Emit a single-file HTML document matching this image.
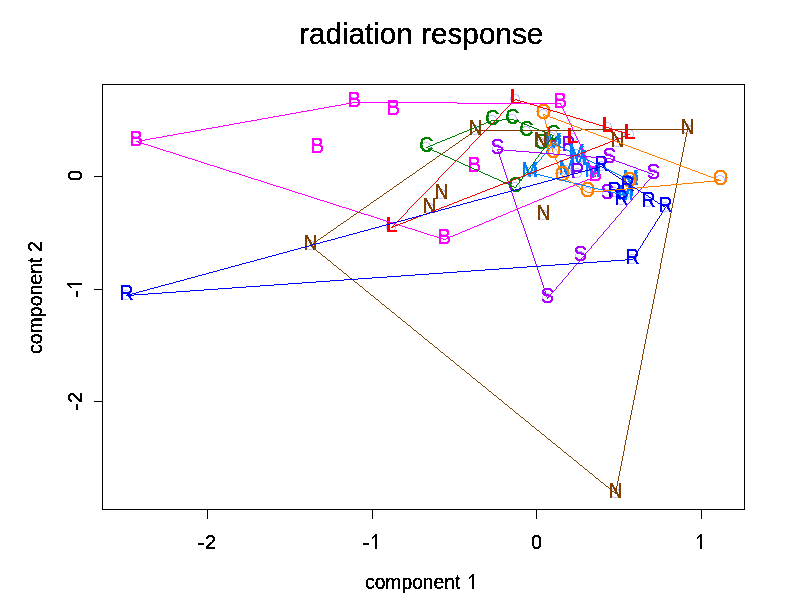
<!DOCTYPE html>
<html><head><meta charset="utf-8"><style>
html,body{margin:0;padding:0;background:#fff;width:792px;height:611px;overflow:hidden}
svg{display:block}
text{font-family:"Liberation Sans",sans-serif}
.L{stroke-width:0.3;paint-order:stroke}
</style></head><body>
<svg width="792" height="611" viewBox="0 0 792 611">
<defs><filter id="crisp" filterUnits="userSpaceOnUse" x="0" y="0" width="792" height="611" color-interpolation-filters="sRGB"><feComponentTransfer><feFuncA type="discrete" tableValues="0 1"/></feComponentTransfer></filter></defs>
<rect x="0" y="0" width="792" height="611" fill="#fff"/>
<g filter="url(#crisp)" stroke="#000" stroke-width="0.35"><text x="299" y="44" font-size="29.7" fill="#000">radiation response</text>
</g><g filter="url(#crisp)" stroke="#000" stroke-width="0.3"><text x="365" y="589" font-size="19.3" fill="#000">component </text>
<text transform="translate(42,354) rotate(-90)" x="0" y="0" font-size="19.5" fill="#000">component 2</text>
<text x="210.5" y="549" font-size="20" text-anchor="middle" fill="#000">2</text>
<text x="536.5" y="549" font-size="20" text-anchor="middle" fill="#000">0</text>
<text transform="translate(82,175.5) rotate(-90)" x="0" y="0" font-size="20" text-anchor="middle" fill="#000">0</text>
<text transform="translate(82,397.5) rotate(-90)" x="0" y="0" font-size="20" text-anchor="middle" fill="#000">2</text>
</g><path fill="#000" shape-rendering="crispEdges" d="M472,574H474V589H472Z M472,574L472,576.5L470.5,578L469,579L469,577L471,575Z M700,534H702V549H700Z M700,534L700,536.5L698.5,538L697,539L697,537L699,535Z M375,534H377V549H375Z M375,534L375,536.5L373.5,538L372,539L372,537L374,535Z M67,283H82V285H67Z M67,285L69.5,285L71,286.5L72,288L70,288L68,286Z M198,543h6v2h-6Z M363,543h6v2h-6Z M76,291h2v6h-2Z M76,404h2v6h-2Z"/>
<g stroke="#000" stroke-width="1" fill="none" shape-rendering="crispEdges"><rect x="102.5" y="84.5" width="642" height="425"/><line x1="207.5" y1="509.5" x2="207.5" y2="518.5"/><line x1="372.5" y1="509.5" x2="372.5" y2="518.5"/><line x1="536.5" y1="509.5" x2="536.5" y2="518.5"/><line x1="701.5" y1="509.5" x2="701.5" y2="518.5"/><line x1="93.5" y1="176.5" x2="102.5" y2="176.5"/><line x1="93.5" y1="289.5" x2="102.5" y2="289.5"/><line x1="93.5" y1="401.5" x2="102.5" y2="401.5"/></g>
<g stroke="#BFBFFF" stroke-width="1" fill="none" shape-rendering="crispEdges"><circle cx="136" cy="141" r="4.5"/><circle cx="354" cy="102" r="4.5"/><circle cx="393" cy="110" r="4.5"/><circle cx="474" cy="167" r="4.5"/><circle cx="560" cy="103" r="4.5"/><circle cx="595" cy="176" r="4.5"/><circle cx="444" cy="239" r="4.5"/><circle cx="497" cy="149" r="4.5"/><circle cx="609" cy="158" r="4.5"/><circle cx="653" cy="174" r="4.5"/><circle cx="580" cy="256" r="4.5"/><circle cx="547" cy="298" r="4.5"/><circle cx="607" cy="194" r="4.5"/><circle cx="426" cy="147" r="4.5"/><circle cx="492" cy="120" r="4.5"/><circle cx="512" cy="119" r="4.5"/><circle cx="526" cy="131" r="4.5"/><circle cx="553" cy="135" r="4.5"/><circle cx="541" cy="144" r="4.5"/><circle cx="515" cy="187" r="4.5"/><circle cx="475" cy="130" r="4.5"/><circle cx="687" cy="129" r="4.5"/><circle cx="617" cy="142" r="4.5"/><circle cx="540" cy="142" r="4.5"/><circle cx="441" cy="194" r="4.5"/><circle cx="429" cy="208" r="4.5"/><circle cx="310" cy="245" r="4.5"/><circle cx="543" cy="215" r="4.5"/><circle cx="615" cy="493" r="4.5"/><circle cx="553" cy="143" r="4.5"/><circle cx="576" cy="154" r="4.5"/><circle cx="578" cy="160" r="4.5"/><circle cx="529" cy="172" r="4.5"/><circle cx="566" cy="170" r="4.5"/><circle cx="592" cy="172" r="4.5"/><circle cx="630" cy="180" r="4.5"/><circle cx="625" cy="195" r="4.5"/><circle cx="543" cy="114" r="4.5"/><circle cx="720" cy="180" r="4.5"/><circle cx="553" cy="153" r="4.5"/><circle cx="562" cy="176" r="4.5"/><circle cx="587" cy="192" r="4.5"/><circle cx="629" cy="182" r="4.5"/><circle cx="568" cy="146" r="4.5"/><circle cx="577" cy="173" r="4.5"/><circle cx="515" cy="99" r="4.5"/><circle cx="607" cy="127" r="4.5"/><circle cx="629" cy="134" r="4.5"/><circle cx="391" cy="227" r="4.5"/><circle cx="551" cy="137" r="4.5"/><circle cx="572" cy="138" r="4.5"/><circle cx="126" cy="295" r="4.5"/><circle cx="601" cy="166" r="4.5"/><circle cx="665" cy="207" r="4.5"/><circle cx="632" cy="259" r="4.5"/><circle cx="648" cy="202" r="4.5"/><circle cx="614" cy="192" r="4.5"/><circle cx="621" cy="200" r="4.5"/><circle cx="627" cy="186" r="4.5"/></g>
<g filter="url(#crisp)" font-size="20" text-anchor="middle"><text class="L" fill="#FF00FF" stroke="#FF00FF" transform="translate(136.5,146) scale(1,1.07)">B</text><text class="L" fill="#FF00FF" stroke="#FF00FF" transform="translate(354.5,107) scale(1,1.07)">B</text><text class="L" fill="#FF00FF" stroke="#FF00FF" transform="translate(393.5,115) scale(1,1.07)">B</text><text class="L" fill="#FF00FF" stroke="#FF00FF" transform="translate(317.5,153) scale(1,1.07)">B</text><text class="L" fill="#FF00FF" stroke="#FF00FF" transform="translate(474.5,172) scale(1,1.07)">B</text><text class="L" fill="#FF00FF" stroke="#FF00FF" transform="translate(560.5,108) scale(1,1.07)">B</text><text class="L" fill="#FF00FF" stroke="#FF00FF" transform="translate(595.5,181) scale(1,1.07)">B</text><text class="L" fill="#FF00FF" stroke="#FF00FF" transform="translate(444.5,244) scale(1,1.07)">B</text><text class="L" fill="#A800FF" stroke="#A800FF" transform="translate(497.5,154) scale(1,1.07)">S</text><text class="L" fill="#A800FF" stroke="#A800FF" transform="translate(609.5,163) scale(1,1.07)">S</text><text class="L" fill="#A800FF" stroke="#A800FF" transform="translate(653.5,179) scale(1,1.07)">S</text><text class="L" fill="#A800FF" stroke="#A800FF" transform="translate(580.5,261) scale(1,1.07)">S</text><text class="L" fill="#A800FF" stroke="#A800FF" transform="translate(547.5,303) scale(1,1.07)">S</text><text class="L" fill="#A800FF" stroke="#A800FF" transform="translate(607.5,199) scale(1,1.07)">S</text><text class="L" fill="#8000FF" stroke="#8000FF" transform="translate(568.5,151) scale(1,1.07)">P</text><text class="L" fill="#008000" stroke="#008000" transform="translate(426.5,152) scale(1,1.07)">C</text><text class="L" fill="#008000" stroke="#008000" transform="translate(492.5,125) scale(1,1.07)">C</text><text class="L" fill="#008000" stroke="#008000" transform="translate(512.5,124) scale(1,1.07)">C</text><text class="L" fill="#008000" stroke="#008000" transform="translate(526.5,136) scale(1,1.07)">C</text><text class="L" fill="#008000" stroke="#008000" transform="translate(553.5,140) scale(1,1.07)">C</text><text class="L" fill="#008000" stroke="#008000" transform="translate(541.5,149) scale(1,1.07)">C</text><text class="L" fill="#008000" stroke="#008000" transform="translate(515.5,192) scale(1,1.07)">C</text><text class="L" fill="#FF0000" stroke="#FF0000" transform="translate(515.5,104) scale(1,1.07)">L</text><text class="L" fill="#FF0000" stroke="#FF0000" transform="translate(607.5,132) scale(1,1.07)">L</text><text class="L" fill="#FF0000" stroke="#FF0000" transform="translate(629.5,139) scale(1,1.07)">L</text><text class="L" fill="#FF0000" stroke="#FF0000" transform="translate(391.5,232) scale(1,1.07)">L</text><text class="L" fill="#FF0000" stroke="#FF0000" transform="translate(551.5,142) scale(1,1.07)">L</text><text class="L" fill="#FF0000" stroke="#FF0000" transform="translate(572.5,143) scale(1,1.07)">L</text><text class="L" fill="#0080FF" stroke="#0080FF" transform="translate(553.5,148) scale(1,1.07)">M</text><text class="L" fill="#0080FF" stroke="#0080FF" transform="translate(576.5,159) scale(1,1.07)">M</text><text class="L" fill="#0080FF" stroke="#0080FF" transform="translate(578.5,165) scale(1,1.07)">M</text><text class="L" fill="#0080FF" stroke="#0080FF" transform="translate(529.5,177) scale(1,1.07)">M</text><text class="L" fill="#0080FF" stroke="#0080FF" transform="translate(566.5,175) scale(1,1.07)">M</text><text class="L" fill="#0080FF" stroke="#0080FF" transform="translate(592.5,177) scale(1,1.07)">M</text><text class="L" fill="#0080FF" stroke="#0080FF" transform="translate(630.5,185) scale(1,1.07)">M</text><text class="L" fill="#0080FF" stroke="#0080FF" transform="translate(625.5,200) scale(1,1.07)">M</text><text class="L" fill="#804000" stroke="#804000" transform="translate(475.5,135) scale(1,1.07)">N</text><text class="L" fill="#804000" stroke="#804000" transform="translate(687.5,134) scale(1,1.07)">N</text><text class="L" fill="#804000" stroke="#804000" transform="translate(617.5,147) scale(1,1.07)">N</text><text class="L" fill="#804000" stroke="#804000" transform="translate(540.5,147) scale(1,1.07)">N</text><text class="L" fill="#804000" stroke="#804000" transform="translate(441.5,199) scale(1,1.07)">N</text><text class="L" fill="#804000" stroke="#804000" transform="translate(429.5,213) scale(1,1.07)">N</text><text class="L" fill="#804000" stroke="#804000" transform="translate(310.5,250) scale(1,1.07)">N</text><text class="L" fill="#804000" stroke="#804000" transform="translate(543.5,220) scale(1,1.07)">N</text><text class="L" fill="#804000" stroke="#804000" transform="translate(615.5,498) scale(1,1.07)">N</text><text class="L" fill="#FF8000" stroke="#FF8000" transform="translate(543.5,119) scale(1,1.07)">O</text><text class="L" fill="#FF8000" stroke="#FF8000" transform="translate(720.5,185) scale(1,1.07)">O</text><text class="L" fill="#FF8000" stroke="#FF8000" transform="translate(553.5,158) scale(1,1.07)">O</text><text class="L" fill="#FF8000" stroke="#FF8000" transform="translate(562.5,181) scale(1,1.07)">O</text><text class="L" fill="#FF8000" stroke="#FF8000" transform="translate(587.5,197) scale(1,1.07)">O</text><text class="L" fill="#FF8000" stroke="#FF8000" transform="translate(629.5,187) scale(1,1.07)">O</text><text class="L" fill="#8000FF" stroke="#8000FF" transform="translate(577.5,178) scale(1,1.07)">P</text><text class="L" fill="#0000FF" stroke="#0000FF" transform="translate(126.5,300) scale(1,1.07)">R</text><text class="L" fill="#0000FF" stroke="#0000FF" transform="translate(601.5,171) scale(1,1.07)">R</text><text class="L" fill="#0000FF" stroke="#0000FF" transform="translate(665.5,212) scale(1,1.07)">R</text><text class="L" fill="#0000FF" stroke="#0000FF" transform="translate(632.5,264) scale(1,1.07)">R</text><text class="L" fill="#0000FF" stroke="#0000FF" transform="translate(648.5,207) scale(1,1.07)">R</text><text class="L" fill="#0000FF" stroke="#0000FF" transform="translate(614.5,197) scale(1,1.07)">R</text><text class="L" fill="#0000FF" stroke="#0000FF" transform="translate(621.5,205) scale(1,1.07)">R</text><text class="L" fill="#0000FF" stroke="#0000FF" transform="translate(627.5,191) scale(1,1.07)">R</text></g>
<path fill="#FF00FF" shape-rendering="crispEdges" d="M144,144h4v1h-4ZM580,144h1v1h-1ZM218,126h5v1h-5ZM571,126h1v1h-1ZM346,103h6v1h-6ZM457,103h104v1h-104ZM324,107h5v1h-5ZM562,107h1v1h-1ZM386,221h4v1h-4ZM486,221h3v1h-3ZM296,112h5v1h-5ZM564,112h1v1h-1ZM232,172h4v1h-4ZM593,172h1v1h-1ZM352,102h105v1h-105ZM324,201h3v1h-3ZM534,201h3v1h-3ZM234,123h6v1h-6ZM570,123h1v1h-1ZM341,104h5v1h-5ZM560,104h1v1h-1ZM170,152h3v1h-3ZM583,152h1v1h-1ZM320,200h4v1h-4ZM537,200h2v1h-2ZM151,146h3v1h-3ZM581,146h1v1h-1ZM313,109h5v1h-5ZM563,109h1v1h-1ZM273,116h6v1h-6ZM566,116h1v1h-1ZM308,196h3v1h-3ZM546,196h3v1h-3ZM150,138h6v1h-6ZM577,138h1v1h-1ZM190,131h5v1h-5ZM573,131h1v1h-1ZM402,226h3v1h-3ZM474,226h3v1h-3ZM327,202h3v1h-3ZM532,202h2v1h-2ZM361,213h3v1h-3ZM506,213h2v1h-2ZM173,153h3v1h-3ZM584,153h1v1h-1ZM261,181h3v1h-3ZM582,181h3v1h-3ZM290,113h6v1h-6ZM565,113h1v1h-1ZM207,164h3v1h-3ZM589,164h1v1h-1ZM184,132h6v1h-6ZM574,132h1v1h-1ZM262,118h6v1h-6ZM567,118h1v1h-1ZM195,160h3v1h-3ZM587,160h1v1h-1ZM156,137h6v1h-6ZM576,137h1v1h-1ZM421,232h3v1h-3ZM460,232h2v1h-2ZM210,165h4v1h-4ZM590,165h1v1h-1ZM285,114h5v1h-5ZM565,114h1v1h-1ZM198,161h3v1h-3ZM588,161h1v1h-1ZM302,194h3v1h-3ZM551,194h3v1h-3ZM380,219h3v1h-3ZM491,219h3v1h-3ZM336,205h3v1h-3ZM525,205h2v1h-2ZM148,145h3v1h-3ZM580,145h1v1h-1ZM254,179h4v1h-4ZM587,179h3v1h-3ZM318,108h6v1h-6ZM562,108h1v1h-1ZM212,127h6v1h-6ZM572,127h1v1h-1ZM434,236h3v1h-3ZM450,236h3v1h-3ZM176,154h3v1h-3ZM584,154h1v1h-1ZM248,177h3v1h-3ZM592,177h2v1h-2ZM339,206h3v1h-3ZM522,206h3v1h-3ZM245,176h3v1h-3ZM594,176h2v1h-2ZM185,157h3v1h-3ZM586,157h1v1h-1ZM201,129h5v1h-5ZM572,129h1v1h-1ZM393,223h3v1h-3ZM482,223h2v1h-2ZM307,110h6v1h-6ZM563,110h1v1h-1ZM239,174h3v1h-3ZM594,174h1v1h-1ZM330,203h3v1h-3ZM530,203h2v1h-2ZM145,139h5v1h-5ZM577,139h1v1h-1ZM305,195h3v1h-3ZM549,195h2v1h-2ZM396,224h3v1h-3ZM479,224h3v1h-3ZM242,175h3v1h-3ZM595,175h1v1h-1ZM280,187h3v1h-3ZM568,187h2v1h-2ZM178,133h6v1h-6ZM574,133h1v1h-1ZM257,119h5v1h-5ZM568,119h1v1h-1ZM333,204h3v1h-3ZM527,204h3v1h-3ZM368,215h3v1h-3ZM501,215h2v1h-2ZM179,155h3v1h-3ZM585,155h1v1h-1ZM267,183h3v1h-3ZM578,183h2v1h-2ZM399,225h3v1h-3ZM477,225h2v1h-2ZM214,166h3v1h-3ZM590,166h1v1h-1ZM154,147h3v1h-3ZM581,147h1v1h-1ZM173,134h5v1h-5ZM575,134h1v1h-1ZM195,130h6v1h-6ZM573,130h1v1h-1ZM298,193h4v1h-4ZM554,193h2v1h-2ZM206,128h6v1h-6ZM572,128h1v1h-1ZM390,222h3v1h-3ZM484,222h2v1h-2ZM424,233h3v1h-3ZM458,233h2v1h-2ZM236,173h3v1h-3ZM594,173h1v1h-1ZM217,167h3v1h-3ZM591,167h1v1h-1ZM352,210h3v1h-3ZM513,210h2v1h-2ZM192,159h3v1h-3ZM587,159h1v1h-1ZM335,105h6v1h-6ZM561,105h1v1h-1ZM311,197h3v1h-3ZM544,197h2v1h-2ZM229,124h5v1h-5ZM570,124h1v1h-1ZM427,234h3v1h-3ZM455,234h3v1h-3ZM182,156h3v1h-3ZM585,156h1v1h-1ZM273,185h3v1h-3ZM573,185h2v1h-2ZM139,140h6v1h-6ZM578,140h1v1h-1ZM292,191h3v1h-3ZM558,191h3v1h-3ZM364,214h4v1h-4ZM503,214h3v1h-3ZM251,178h3v1h-3ZM590,178h2v1h-2ZM162,136h5v1h-5ZM576,136h1v1h-1ZM251,120h6v1h-6ZM568,120h1v1h-1ZM412,229h3v1h-3ZM467,229h3v1h-3ZM157,148h3v1h-3ZM582,148h1v1h-1ZM167,135h6v1h-6ZM575,135h1v1h-1ZM286,189h3v1h-3ZM563,189h3v1h-3ZM371,216h3v1h-3ZM498,216h3v1h-3ZM188,158h4v1h-4ZM586,158h1v1h-1ZM220,168h3v1h-3ZM591,168h1v1h-1ZM405,227h3v1h-3ZM472,227h2v1h-2ZM160,149h3v1h-3ZM582,149h1v1h-1ZM377,218h3v1h-3ZM494,218h2v1h-2ZM440,238h3v1h-3ZM446,238h2v1h-2ZM276,186h4v1h-4ZM570,186h3v1h-3ZM279,115h6v1h-6ZM566,115h1v1h-1ZM430,235h4v1h-4ZM453,235h2v1h-2ZM358,212h3v1h-3ZM508,212h2v1h-2ZM289,190h3v1h-3ZM561,190h2v1h-2ZM317,199h3v1h-3ZM539,199h3v1h-3ZM270,184h3v1h-3ZM575,184h3v1h-3ZM342,207h4v1h-4ZM520,207h2v1h-2ZM408,228h4v1h-4ZM470,228h2v1h-2ZM245,121h6v1h-6ZM569,121h1v1h-1ZM346,208h3v1h-3ZM518,208h2v1h-2ZM258,180h3v1h-3ZM585,180h2v1h-2ZM437,237h3v1h-3ZM448,237h2v1h-2ZM283,188h3v1h-3ZM566,188h2v1h-2ZM268,117h5v1h-5ZM567,117h1v1h-1ZM418,231h3v1h-3ZM462,231h3v1h-3ZM349,209h3v1h-3ZM515,209h3v1h-3ZM163,150h3v1h-3ZM583,150h1v1h-1ZM301,111h6v1h-6ZM564,111h1v1h-1ZM383,220h3v1h-3ZM489,220h2v1h-2ZM229,171h3v1h-3ZM593,171h1v1h-1ZM374,217h3v1h-3ZM496,217h2v1h-2ZM166,151h4v1h-4ZM583,151h1v1h-1ZM329,106h6v1h-6ZM561,106h1v1h-1ZM240,122h5v1h-5ZM569,122h1v1h-1ZM223,125h6v1h-6ZM571,125h1v1h-1ZM223,169h3v1h-3ZM592,169h1v1h-1ZM314,198h3v1h-3ZM542,198h2v1h-2ZM443,239h3v1h-3ZM415,230h3v1h-3ZM465,230h2v1h-2ZM138,142h3v1h-3ZM579,142h1v1h-1ZM355,211h3v1h-3ZM510,211h3v1h-3ZM201,162h3v1h-3ZM588,162h1v1h-1ZM204,163h3v1h-3ZM589,163h1v1h-1ZM295,192h3v1h-3ZM556,192h2v1h-2ZM141,143h3v1h-3ZM579,143h1v1h-1ZM136,141h3v1h-3ZM578,141h1v1h-1ZM264,182h3v1h-3ZM580,182h2v1h-2ZM226,170h3v1h-3ZM592,170h1v1h-1Z"/>
<path fill="#A800FF" shape-rendering="crispEdges" d="M501,162h1v1h-1ZM619,162h3v1h-3ZM512,193h1v1h-1ZM637,193h1v1h-1ZM500,157h1v1h-1ZM591,157h12v1h-12ZM497,150h1v1h-1ZM504,150h12v1h-12ZM498,152h1v1h-1ZM529,152h12v1h-12ZM498,151h1v1h-1ZM516,151h13v1h-13ZM523,225h1v1h-1ZM609,225h1v1h-1ZM514,199h1v1h-1ZM632,199h1v1h-1ZM535,263h1v1h-1ZM577,263h1v1h-1ZM498,153h1v1h-1ZM541,153h12v1h-12ZM539,273h1v1h-1ZM568,273h1v1h-1ZM499,154h1v1h-1ZM553,154h13v1h-13ZM508,183h1v1h-1ZM645,183h1v1h-1ZM511,192h1v1h-1ZM638,192h1v1h-1ZM504,171h1v1h-1ZM644,171h3v1h-3ZM532,254h1v1h-1ZM585,254h1v1h-1ZM542,283h1v1h-1ZM560,283h1v1h-1ZM502,163h1v1h-1ZM622,163h3v1h-3ZM535,262h1v1h-1ZM578,262h1v1h-1ZM510,189h1v1h-1ZM640,189h1v1h-1ZM500,158h1v1h-1ZM603,158h8v1h-8ZM502,164h1v1h-1ZM625,164h2v1h-2ZM518,212h1v1h-1ZM621,212h1v1h-1ZM515,203h1v1h-1ZM628,203h1v1h-1ZM528,240h1v1h-1ZM597,240h1v1h-1ZM508,182h1v1h-1ZM646,182h1v1h-1ZM501,161h1v1h-1ZM616,161h3v1h-3ZM546,294h1v1h-1ZM550,294h1v1h-1ZM499,155h1v1h-1ZM566,155h12v1h-12ZM529,244h1v1h-1ZM593,244h1v1h-1ZM506,176h1v1h-1ZM651,176h1v1h-1ZM542,282h1v1h-1ZM561,282h1v1h-1ZM499,156h1v1h-1ZM578,156h13v1h-13ZM513,198h1v1h-1ZM632,198h1v1h-1ZM502,165h1v1h-1ZM627,165h3v1h-3ZM517,208h1v1h-1ZM624,208h1v1h-1ZM538,272h1v1h-1ZM569,272h1v1h-1ZM532,253h1v1h-1ZM585,253h1v1h-1ZM523,227h1v1h-1ZM608,227h1v1h-1ZM503,166h1v1h-1ZM630,166h3v1h-3ZM535,261h1v1h-1ZM579,261h1v1h-1ZM507,180h1v1h-1ZM648,180h1v1h-1ZM503,167h1v1h-1ZM633,167h3v1h-3ZM512,195h1v1h-1ZM635,195h1v1h-1ZM534,259h1v1h-1ZM580,259h1v1h-1ZM545,292h1v1h-1ZM552,292h1v1h-1ZM520,217h1v1h-1ZM616,217h1v1h-1ZM525,233h1v1h-1ZM603,233h1v1h-1ZM500,159h1v1h-1ZM611,159h3v1h-3ZM538,271h1v1h-1ZM570,271h1v1h-1ZM513,196h1v1h-1ZM634,196h1v1h-1ZM503,168h1v1h-1ZM636,168h2v1h-2ZM531,250h1v1h-1ZM588,250h1v1h-1ZM544,288h1v1h-1ZM556,288h1v1h-1ZM524,228h1v1h-1ZM607,228h1v1h-1ZM545,291h1v1h-1ZM553,291h1v1h-1ZM522,223h1v1h-1ZM611,223h1v1h-1ZM515,204h1v1h-1ZM627,204h1v1h-1ZM504,169h1v1h-1ZM638,169h3v1h-3ZM527,238h1v1h-1ZM598,238h1v1h-1ZM547,297h2v1h-2ZM540,278h1v1h-1ZM564,278h1v1h-1ZM544,290h1v1h-1ZM554,290h1v1h-1ZM537,269h1v1h-1ZM572,269h1v1h-1ZM497,149h7v1h-7ZM526,236h1v1h-1ZM600,236h1v1h-1ZM525,232h1v1h-1ZM603,232h1v1h-1ZM530,248h1v1h-1ZM590,248h1v1h-1ZM538,270h1v1h-1ZM571,270h1v1h-1ZM531,249h1v1h-1ZM589,249h1v1h-1ZM523,226h1v1h-1ZM609,226h1v1h-1ZM507,178h1v1h-1ZM650,178h1v1h-1ZM528,242h1v1h-1ZM595,242h1v1h-1ZM541,280h1v1h-1ZM562,280h1v1h-1ZM516,205h1v1h-1ZM626,205h1v1h-1ZM543,287h1v1h-1ZM556,287h1v1h-1ZM509,184h1v1h-1ZM644,184h1v1h-1ZM505,172h1v1h-1ZM647,172h2v1h-2ZM508,181h1v1h-1ZM647,181h1v1h-1ZM545,293h1v1h-1ZM551,293h1v1h-1ZM527,237h1v1h-1ZM599,237h1v1h-1ZM520,219h1v1h-1ZM615,219h1v1h-1ZM505,173h1v1h-1ZM649,173h3v1h-3ZM510,187h1v1h-1ZM642,187h1v1h-1ZM531,251h1v1h-1ZM587,251h1v1h-1ZM544,289h1v1h-1ZM555,289h1v1h-1ZM504,170h1v1h-1ZM641,170h3v1h-3ZM537,268h1v1h-1ZM573,268h1v1h-1ZM530,247h1v1h-1ZM591,247h1v1h-1ZM533,257h1v1h-1ZM582,257h1v1h-1ZM506,177h1v1h-1ZM650,177h1v1h-1ZM541,279h1v1h-1ZM563,279h1v1h-1ZM514,200h1v1h-1ZM631,200h1v1h-1ZM534,258h1v1h-1ZM581,258h1v1h-1ZM519,214h1v1h-1ZM619,214h1v1h-1ZM516,206h1v1h-1ZM626,206h1v1h-1ZM515,202h1v1h-1ZM629,202h1v1h-1ZM540,276h1v1h-1ZM566,276h1v1h-1ZM534,260h1v1h-1ZM579,260h1v1h-1ZM519,215h1v1h-1ZM618,215h1v1h-1ZM540,277h1v1h-1ZM565,277h1v1h-1ZM533,256h1v1h-1ZM583,256h1v1h-1ZM536,266h1v1h-1ZM574,266h1v1h-1ZM518,213h1v1h-1ZM620,213h1v1h-1ZM526,235h1v1h-1ZM601,235h1v1h-1ZM521,221h1v1h-1ZM613,221h1v1h-1ZM543,285h1v1h-1ZM558,285h1v1h-1ZM511,191h1v1h-1ZM638,191h1v1h-1ZM529,245h1v1h-1ZM592,245h1v1h-1ZM507,179h1v1h-1ZM649,179h1v1h-1ZM529,243h1v1h-1ZM594,243h1v1h-1ZM546,295h1v1h-1ZM550,295h1v1h-1ZM522,224h1v1h-1ZM610,224h1v1h-1ZM518,211h1v1h-1ZM621,211h1v1h-1ZM509,185h1v1h-1ZM644,185h1v1h-1ZM526,234h1v1h-1ZM602,234h1v1h-1ZM547,298h1v1h-1ZM501,160h1v1h-1ZM614,160h2v1h-2ZM536,265h1v1h-1ZM575,265h1v1h-1ZM511,190h1v1h-1ZM639,190h1v1h-1ZM521,222h1v1h-1ZM612,222h1v1h-1ZM514,201h1v1h-1ZM630,201h1v1h-1ZM524,230h1v1h-1ZM605,230h1v1h-1ZM532,252h1v1h-1ZM586,252h1v1h-1ZM539,275h1v1h-1ZM567,275h1v1h-1ZM533,255h1v1h-1ZM584,255h1v1h-1ZM512,194h1v1h-1ZM636,194h1v1h-1ZM506,175h1v1h-1ZM652,175h1v1h-1ZM527,239h1v1h-1ZM597,239h1v1h-1ZM541,281h1v1h-1ZM562,281h1v1h-1ZM543,286h1v1h-1ZM557,286h1v1h-1ZM546,296h1v1h-1ZM549,296h1v1h-1ZM537,267h1v1h-1ZM573,267h1v1h-1ZM539,274h1v1h-1ZM568,274h1v1h-1ZM517,210h1v1h-1ZM622,210h1v1h-1ZM517,209h1v1h-1ZM623,209h1v1h-1ZM542,284h1v1h-1ZM559,284h1v1h-1ZM505,174h1v1h-1ZM652,174h2v1h-2ZM536,264h1v1h-1ZM576,264h1v1h-1ZM528,241h1v1h-1ZM596,241h1v1h-1ZM520,218h1v1h-1ZM615,218h1v1h-1ZM521,220h1v1h-1ZM614,220h1v1h-1ZM530,246h1v1h-1ZM591,246h1v1h-1ZM510,188h1v1h-1ZM641,188h1v1h-1ZM525,231h1v1h-1ZM604,231h1v1h-1ZM513,197h1v1h-1ZM633,197h1v1h-1ZM516,207h1v1h-1ZM625,207h1v1h-1ZM524,229h1v1h-1ZM606,229h1v1h-1ZM509,186h1v1h-1ZM643,186h1v1h-1ZM519,216h1v1h-1ZM617,216h1v1h-1Z"/>
<path fill="#008000" shape-rendering="crispEdges" d="M430,145h3v1h-3ZM546,145h1v1h-1ZM491,120h11v1h-11ZM514,120h2v1h-2ZM502,119h12v1h-12ZM437,152h2v1h-2ZM541,152h1v1h-1ZM464,131h3v1h-3ZM542,131h3v1h-3ZM443,155h2v1h-2ZM538,155h1v1h-1ZM483,173h2v1h-2ZM525,173h1v1h-1ZM479,171h2v1h-2ZM527,171h1v1h-1ZM474,169h3v1h-3ZM528,169h1v1h-1ZM455,135h2v1h-2ZM552,135h2v1h-2ZM434,151h3v1h-3ZM541,151h1v1h-1ZM459,162h2v1h-2ZM533,162h1v1h-1ZM472,128h2v1h-2ZM534,128h3v1h-3ZM479,125h2v1h-2ZM527,125h2v1h-2ZM439,153h2v1h-2ZM540,153h1v1h-1ZM508,184h2v1h-2ZM517,184h1v1h-1ZM437,142h3v1h-3ZM548,142h1v1h-1ZM492,177h2v1h-2ZM522,177h1v1h-1ZM452,136h3v1h-3ZM552,136h1v1h-1ZM469,129h3v1h-3ZM537,129h2v1h-2ZM462,132h2v1h-2ZM545,132h2v1h-2ZM428,148h2v1h-2ZM543,148h1v1h-1ZM470,167h2v1h-2ZM530,167h1v1h-1ZM510,185h2v1h-2ZM516,185h1v1h-1ZM461,163h2v1h-2ZM533,163h1v1h-1ZM445,156h3v1h-3ZM538,156h1v1h-1ZM485,174h3v1h-3ZM524,174h1v1h-1ZM441,154h2v1h-2ZM539,154h1v1h-1ZM445,139h2v1h-2ZM550,139h1v1h-1ZM486,122h3v1h-3ZM519,122h2v1h-2ZM463,164h2v1h-2ZM532,164h1v1h-1ZM477,126h2v1h-2ZM529,126h3v1h-3ZM440,141h2v1h-2ZM549,141h1v1h-1ZM454,160h3v1h-3ZM535,160h1v1h-1ZM452,159h2v1h-2ZM535,159h1v1h-1ZM430,149h2v1h-2ZM543,149h1v1h-1ZM459,133h3v1h-3ZM547,133h3v1h-3ZM484,123h2v1h-2ZM521,123h3v1h-3ZM488,175h2v1h-2ZM524,175h1v1h-1ZM447,138h3v1h-3ZM551,138h1v1h-1ZM489,121h2v1h-2ZM516,121h3v1h-3ZM457,134h2v1h-2ZM550,134h2v1h-2ZM494,178h3v1h-3ZM522,178h1v1h-1ZM474,127h3v1h-3ZM532,127h2v1h-2ZM481,124h3v1h-3ZM524,124h3v1h-3ZM450,158h2v1h-2ZM536,158h1v1h-1ZM426,147h2v1h-2ZM544,147h1v1h-1ZM503,182h2v1h-2ZM519,182h1v1h-1ZM428,146h2v1h-2ZM545,146h1v1h-1ZM472,168h2v1h-2ZM529,168h1v1h-1ZM457,161h2v1h-2ZM534,161h1v1h-1ZM448,157h2v1h-2ZM537,157h1v1h-1ZM514,187h2v1h-2ZM512,186h2v1h-2ZM516,186h1v1h-1ZM432,150h2v1h-2ZM542,150h1v1h-1ZM433,144h2v1h-2ZM546,144h1v1h-1ZM505,183h3v1h-3ZM518,183h1v1h-1ZM490,176h2v1h-2ZM523,176h1v1h-1ZM477,170h2v1h-2ZM527,170h1v1h-1ZM481,172h2v1h-2ZM526,172h1v1h-1ZM499,180h2v1h-2ZM520,180h1v1h-1ZM467,130h2v1h-2ZM539,130h3v1h-3ZM442,140h3v1h-3ZM549,140h1v1h-1ZM435,143h2v1h-2ZM547,143h1v1h-1ZM450,137h2v1h-2ZM552,137h1v1h-1ZM465,165h3v1h-3ZM531,165h1v1h-1ZM497,179h2v1h-2ZM521,179h1v1h-1ZM468,166h2v1h-2ZM530,166h1v1h-1ZM501,181h2v1h-2ZM519,181h1v1h-1Z"/>
<path fill="#804000" shape-rendering="crispEdges" d="M581,129h107v1h-107ZM512,409h1v1h-1ZM632,409h1v1h-1ZM311,244h2v1h-2ZM664,244h1v1h-1ZM371,295h2v1h-2ZM654,295h1v1h-1ZM590,473h2v1h-2ZM619,473h1v1h-1ZM523,418h1v1h-1ZM630,418h1v1h-1ZM377,198h2v1h-2ZM673,198h1v1h-1ZM456,143h2v1h-2ZM684,143h1v1h-1ZM475,130h106v1h-106ZM687,130h1v1h-1ZM350,217h1v1h-1ZM670,217h1v1h-1ZM434,346h1v1h-1ZM644,346h1v1h-1ZM450,147h2v1h-2ZM683,147h1v1h-1ZM524,419h1v1h-1ZM630,419h1v1h-1ZM445,355h1v1h-1ZM642,355h1v1h-1ZM380,196h2v1h-2ZM674,196h1v1h-1ZM361,209h2v1h-2ZM671,209h1v1h-1ZM498,398h1v1h-1ZM634,398h1v1h-1ZM514,411h1v1h-1ZM631,411h1v1h-1ZM357,283h1v1h-1ZM657,283h1v1h-1ZM605,485h1v1h-1ZM617,485h1v1h-1ZM537,430h2v1h-2ZM627,430h1v1h-1ZM446,356h2v1h-2ZM642,356h1v1h-1ZM392,188h1v1h-1ZM675,188h1v1h-1ZM488,390h1v1h-1ZM635,390h1v1h-1ZM548,439h2v1h-2ZM626,439h1v1h-1ZM457,365h2v1h-2ZM640,365h1v1h-1ZM331,262h1v1h-1ZM661,262h1v1h-1ZM355,282h2v1h-2ZM657,282h1v1h-1ZM579,464h1v1h-1ZM621,464h1v1h-1ZM460,367h1v1h-1ZM640,367h1v1h-1ZM422,167h1v1h-1ZM679,167h1v1h-1ZM471,376h1v1h-1ZM638,376h1v1h-1ZM316,241h1v1h-1ZM665,241h1v1h-1ZM550,440h1v1h-1ZM625,440h1v1h-1ZM321,254h1v1h-1ZM662,254h1v1h-1ZM387,308h2v1h-2ZM652,308h1v1h-1ZM553,443h2v1h-2ZM625,443h1v1h-1ZM612,491h2v1h-2ZM615,491h1v1h-1ZM327,233h1v1h-1ZM666,233h1v1h-1ZM362,287h1v1h-1ZM656,287h1v1h-1ZM528,422h1v1h-1ZM629,422h1v1h-1ZM544,435h1v1h-1ZM626,435h1v1h-1ZM472,377h1v1h-1ZM638,377h1v1h-1ZM574,460h2v1h-2ZM622,460h1v1h-1ZM483,386h2v1h-2ZM636,386h1v1h-1ZM389,190h1v1h-1ZM675,190h1v1h-1ZM420,168h2v1h-2ZM679,168h1v1h-1ZM336,266h1v1h-1ZM660,266h1v1h-1ZM455,144h1v1h-1ZM684,144h1v1h-1ZM366,206h1v1h-1ZM672,206h1v1h-1ZM445,151h1v1h-1ZM683,151h1v1h-1ZM443,353h1v1h-1ZM643,353h1v1h-1ZM609,488h1v1h-1ZM616,488h1v1h-1ZM497,397h1v1h-1ZM634,397h1v1h-1ZM400,182h2v1h-2ZM677,182h1v1h-1ZM576,461h1v1h-1ZM621,461h1v1h-1ZM432,160h1v1h-1ZM681,160h1v1h-1ZM393,187h1v1h-1ZM676,187h1v1h-1ZM466,136h2v1h-2ZM686,136h1v1h-1ZM417,332h1v1h-1ZM647,332h1v1h-1ZM583,467h1v1h-1ZM620,467h1v1h-1ZM394,313h1v1h-1ZM651,313h1v1h-1ZM315,249h1v1h-1ZM663,249h1v1h-1ZM459,141h1v1h-1ZM685,141h1v1h-1ZM370,203h1v1h-1ZM672,203h1v1h-1ZM443,152h2v1h-2ZM682,152h1v1h-1ZM430,343h2v1h-2ZM645,343h1v1h-1ZM404,179h2v1h-2ZM677,179h1v1h-1ZM391,311h1v1h-1ZM651,311h1v1h-1ZM436,157h1v1h-1ZM681,157h1v1h-1ZM456,364h1v1h-1ZM641,364h1v1h-1ZM316,250h1v1h-1ZM663,250h1v1h-1ZM397,184h2v1h-2ZM676,184h1v1h-1ZM470,133h2v1h-2ZM686,133h1v1h-1ZM382,195h1v1h-1ZM674,195h1v1h-1ZM343,222h1v1h-1ZM669,222h1v1h-1ZM374,200h2v1h-2ZM673,200h1v1h-1ZM410,175h2v1h-2ZM678,175h1v1h-1ZM330,261h1v1h-1ZM661,261h1v1h-1ZM320,238h1v1h-1ZM665,238h1v1h-1ZM341,270h1v1h-1ZM659,270h1v1h-1ZM352,279h1v1h-1ZM657,279h1v1h-1ZM440,154h2v1h-2ZM682,154h1v1h-1ZM482,385h1v1h-1ZM636,385h1v1h-1ZM342,271h1v1h-1ZM659,271h1v1h-1ZM346,220h1v1h-1ZM669,220h1v1h-1ZM366,291h2v1h-2ZM655,291h1v1h-1ZM376,199h1v1h-1ZM673,199h1v1h-1ZM585,469h2v1h-2ZM620,469h1v1h-1ZM502,401h1v1h-1ZM633,401h1v1h-1ZM378,300h1v1h-1ZM653,300h1v1h-1ZM578,463h1v1h-1ZM621,463h1v1h-1ZM508,406h1v1h-1ZM632,406h1v1h-1ZM519,415h1v1h-1ZM630,415h1v1h-1ZM317,240h1v1h-1ZM665,240h1v1h-1ZM386,307h1v1h-1ZM652,307h1v1h-1ZM552,442h1v1h-1ZM625,442h1v1h-1ZM441,352h2v1h-2ZM643,352h1v1h-1ZM392,312h2v1h-2ZM651,312h1v1h-1ZM360,286h2v1h-2ZM656,286h1v1h-1ZM526,421h2v1h-2ZM629,421h1v1h-1ZM403,321h2v1h-2ZM649,321h1v1h-1ZM463,138h2v1h-2ZM685,138h1v1h-1ZM334,265h2v1h-2ZM660,265h1v1h-1ZM534,427h1v1h-1ZM628,427h1v1h-1ZM326,258h1v1h-1ZM661,258h1v1h-1ZM446,150h2v1h-2ZM683,150h1v1h-1ZM545,436h1v1h-1ZM626,436h1v1h-1ZM608,487h1v1h-1ZM616,487h1v1h-1ZM347,219h2v1h-2ZM669,219h1v1h-1ZM416,331h1v1h-1ZM647,331h1v1h-1ZM582,466h1v1h-1ZM620,466h1v1h-1ZM467,373h2v1h-2ZM639,373h1v1h-1ZM569,456h2v1h-2ZM622,456h1v1h-1ZM478,382h2v1h-2ZM637,382h1v1h-1ZM390,310h1v1h-1ZM651,310h1v1h-1ZM481,384h1v1h-1ZM637,384h1v1h-1ZM560,448h1v1h-1ZM624,448h1v1h-1ZM492,393h1v1h-1ZM635,393h1v1h-1ZM571,457h1v1h-1ZM622,457h1v1h-1ZM310,245h1v1h-1ZM664,245h1v1h-1ZM412,174h1v1h-1ZM678,174h1v1h-1ZM455,363h1v1h-1ZM641,363h1v1h-1ZM414,330h2v1h-2ZM647,330h1v1h-1ZM344,221h2v1h-2ZM669,221h1v1h-1ZM562,450h1v1h-1ZM624,450h1v1h-1ZM493,394h1v1h-1ZM635,394h1v1h-1ZM442,153h1v1h-1ZM682,153h1v1h-1ZM504,403h1v1h-1ZM633,403h1v1h-1ZM311,246h1v1h-1ZM664,246h1v1h-1ZM536,429h1v1h-1ZM628,429h1v1h-1ZM314,242h2v1h-2ZM665,242h1v1h-1ZM472,132h1v1h-1ZM686,132h1v1h-1ZM419,334h2v1h-2ZM646,334h1v1h-1ZM518,414h1v1h-1ZM631,414h1v1h-1ZM596,478h2v1h-2ZM618,478h1v1h-1ZM344,273h2v1h-2ZM659,273h1v1h-1ZM510,408h2v1h-2ZM632,408h1v1h-1ZM406,178h1v1h-1ZM677,178h1v1h-1ZM501,400h1v1h-1ZM633,400h1v1h-1ZM530,424h1v1h-1ZM629,424h1v1h-1ZM592,474h1v1h-1ZM619,474h1v1h-1ZM337,267h1v1h-1ZM660,267h1v1h-1ZM348,276h1v1h-1ZM658,276h1v1h-1ZM566,453h1v1h-1ZM623,453h1v1h-1ZM341,223h2v1h-2ZM668,223h1v1h-1ZM350,278h2v1h-2ZM658,278h1v1h-1ZM556,445h1v1h-1ZM624,445h1v1h-1ZM451,360h2v1h-2ZM641,360h1v1h-1ZM450,359h1v1h-1ZM642,359h1v1h-1ZM364,289h1v1h-1ZM655,289h1v1h-1ZM363,288h1v1h-1ZM656,288h1v1h-1ZM374,297h1v1h-1ZM654,297h1v1h-1ZM424,338h1v1h-1ZM646,338h1v1h-1ZM426,164h1v1h-1ZM680,164h1v1h-1ZM371,202h2v1h-2ZM673,202h1v1h-1ZM606,486h2v1h-2ZM616,486h1v1h-1ZM515,412h1v1h-1ZM631,412h1v1h-1ZM403,180h1v1h-1ZM677,180h1v1h-1ZM505,404h2v1h-2ZM633,404h1v1h-1ZM437,156h2v1h-2ZM682,156h1v1h-1ZM349,218h1v1h-1ZM669,218h1v1h-1ZM469,134h1v1h-1ZM686,134h1v1h-1ZM389,309h1v1h-1ZM651,309h1v1h-1ZM529,423h1v1h-1ZM629,423h1v1h-1ZM430,161h2v1h-2ZM681,161h1v1h-1ZM415,172h1v1h-1ZM678,172h1v1h-1ZM540,432h1v1h-1ZM627,432h1v1h-1ZM480,383h1v1h-1ZM637,383h1v1h-1ZM407,177h2v1h-2ZM678,177h1v1h-1ZM321,237h2v1h-2ZM666,237h1v1h-1ZM353,215h1v1h-1ZM670,215h1v1h-1ZM473,131h2v1h-2ZM687,131h1v1h-1ZM336,227h1v1h-1ZM668,227h1v1h-1ZM454,362h1v1h-1ZM641,362h1v1h-1ZM470,375h1v1h-1ZM638,375h1v1h-1ZM387,191h2v1h-2ZM675,191h1v1h-1ZM541,433h1v1h-1ZM627,433h1v1h-1ZM419,169h1v1h-1ZM679,169h1v1h-1ZM473,378h2v1h-2ZM638,378h1v1h-1ZM561,449h1v1h-1ZM624,449h1v1h-1ZM462,369h2v1h-2ZM640,369h1v1h-1ZM322,255h1v1h-1ZM662,255h1v1h-1ZM453,145h2v1h-2ZM684,145h1v1h-1ZM364,207h2v1h-2ZM672,207h1v1h-1ZM326,234h1v1h-1ZM666,234h1v1h-1ZM357,212h2v1h-2ZM671,212h1v1h-1ZM369,293h1v1h-1ZM655,293h1v1h-1ZM444,354h1v1h-1ZM642,354h1v1h-1ZM535,428h1v1h-1ZM628,428h1v1h-1ZM555,444h1v1h-1ZM625,444h1v1h-1ZM577,462h1v1h-1ZM621,462h1v1h-1ZM373,296h1v1h-1ZM654,296h1v1h-1ZM343,272h1v1h-1ZM659,272h1v1h-1ZM509,407h1v1h-1ZM632,407h1v1h-1ZM567,454h1v1h-1ZM623,454h1v1h-1ZM499,399h2v1h-2ZM634,399h1v1h-1ZM317,251h1v1h-1ZM663,251h1v1h-1ZM331,230h2v1h-2ZM667,230h1v1h-1ZM580,465h2v1h-2ZM621,465h1v1h-1ZM313,243h1v1h-1ZM664,243h1v1h-1ZM489,391h2v1h-2ZM635,391h1v1h-1ZM398,317h2v1h-2ZM650,317h1v1h-1ZM564,452h2v1h-2ZM623,452h1v1h-1ZM603,483h1v1h-1ZM617,483h1v1h-1ZM410,326h1v1h-1ZM648,326h1v1h-1ZM593,475h1v1h-1ZM619,475h1v1h-1ZM525,420h1v1h-1ZM629,420h1v1h-1ZM332,263h1v1h-1ZM660,263h1v1h-1ZM460,140h2v1h-2ZM685,140h1v1h-1ZM347,275h1v1h-1ZM658,275h1v1h-1ZM595,477h1v1h-1ZM618,477h1v1h-1ZM411,327h1v1h-1ZM648,327h1v1h-1ZM428,341h1v1h-1ZM645,341h1v1h-1ZM435,347h2v1h-2ZM644,347h1v1h-1ZM402,181h1v1h-1ZM677,181h1v1h-1ZM551,441h1v1h-1ZM625,441h1v1h-1ZM318,239h2v1h-2ZM665,239h1v1h-1ZM396,185h1v1h-1ZM676,185h1v1h-1ZM402,320h1v1h-1ZM649,320h1v1h-1ZM358,284h1v1h-1ZM656,284h1v1h-1ZM384,193h2v1h-2ZM674,193h1v1h-1ZM458,142h1v1h-1ZM684,142h1v1h-1ZM330,231h1v1h-1ZM667,231h1v1h-1ZM376,299h2v1h-2ZM653,299h1v1h-1ZM382,304h2v1h-2ZM652,304h1v1h-1ZM337,226h1v1h-1ZM668,226h1v1h-1ZM453,361h1v1h-1ZM641,361h1v1h-1ZM367,205h2v1h-2ZM672,205h1v1h-1ZM384,305h1v1h-1ZM652,305h1v1h-1ZM368,292h1v1h-1ZM655,292h1v1h-1ZM432,344h1v1h-1ZM644,344h1v1h-1ZM395,314h1v1h-1ZM650,314h1v1h-1ZM408,325h2v1h-2ZM648,325h1v1h-1ZM589,472h1v1h-1ZM619,472h1v1h-1ZM333,229h1v1h-1ZM667,229h1v1h-1ZM539,431h1v1h-1ZM627,431h1v1h-1ZM421,335h1v1h-1ZM646,335h1v1h-1ZM381,303h1v1h-1ZM653,303h1v1h-1ZM397,316h1v1h-1ZM650,316h1v1h-1ZM563,451h1v1h-1ZM623,451h1v1h-1ZM494,395h2v1h-2ZM634,395h1v1h-1ZM573,459h1v1h-1ZM622,459h1v1h-1ZM462,139h1v1h-1ZM685,139h1v1h-1ZM346,274h1v1h-1ZM658,274h1v1h-1ZM594,476h1v1h-1ZM618,476h1v1h-1ZM587,470h1v1h-1ZM620,470h1v1h-1ZM437,348h1v1h-1ZM644,348h1v1h-1ZM386,192h1v1h-1ZM675,192h1v1h-1ZM427,340h1v1h-1ZM645,340h1v1h-1ZM588,471h1v1h-1ZM619,471h1v1h-1ZM520,416h1v1h-1ZM630,416h1v1h-1ZM599,480h1v1h-1ZM618,480h1v1h-1ZM416,171h1v1h-1ZM679,171h1v1h-1ZM401,319h1v1h-1ZM649,319h1v1h-1ZM448,149h1v1h-1ZM683,149h1v1h-1ZM601,482h2v1h-2ZM617,482h1v1h-1ZM406,323h1v1h-1ZM649,323h1v1h-1ZM409,176h1v1h-1ZM678,176h1v1h-1ZM427,163h2v1h-2ZM680,163h1v1h-1ZM521,417h2v1h-2ZM630,417h1v1h-1ZM532,426h2v1h-2ZM628,426h1v1h-1ZM354,214h2v1h-2ZM670,214h1v1h-1ZM328,260h2v1h-2ZM661,260h1v1h-1ZM452,146h1v1h-1ZM684,146h1v1h-1ZM614,492h2v1h-2ZM327,259h1v1h-1ZM661,259h1v1h-1ZM324,235h2v1h-2ZM666,235h1v1h-1ZM351,216h2v1h-2ZM670,216h1v1h-1ZM353,280h1v1h-1ZM657,280h1v1h-1ZM359,211h1v1h-1ZM671,211h1v1h-1ZM390,189h2v1h-2ZM675,189h1v1h-1ZM363,208h1v1h-1ZM671,208h1v1h-1ZM513,410h1v1h-1ZM631,410h1v1h-1ZM547,438h1v1h-1ZM626,438h1v1h-1ZM604,484h1v1h-1ZM617,484h1v1h-1ZM354,281h1v1h-1ZM657,281h1v1h-1ZM365,290h1v1h-1ZM655,290h1v1h-1ZM340,224h1v1h-1ZM668,224h1v1h-1ZM379,301h1v1h-1ZM653,301h1v1h-1ZM598,479h1v1h-1ZM618,479h1v1h-1ZM320,253h1v1h-1ZM662,253h1v1h-1ZM469,374h1v1h-1ZM639,374h1v1h-1ZM380,302h1v1h-1ZM653,302h1v1h-1ZM312,247h2v1h-2ZM664,247h1v1h-1ZM487,389h1v1h-1ZM636,389h1v1h-1ZM461,368h1v1h-1ZM640,368h1v1h-1ZM405,322h1v1h-1ZM649,322h1v1h-1ZM546,437h1v1h-1ZM626,437h1v1h-1ZM413,173h2v1h-2ZM678,173h1v1h-1ZM338,268h1v1h-1ZM660,268h1v1h-1ZM557,446h1v1h-1ZM624,446h1v1h-1ZM339,269h2v1h-2ZM659,269h1v1h-1ZM425,165h1v1h-1ZM680,165h1v1h-1ZM417,170h2v1h-2ZM679,170h1v1h-1ZM399,183h1v1h-1ZM676,183h1v1h-1ZM466,372h1v1h-1ZM639,372h1v1h-1ZM328,232h2v1h-2ZM667,232h1v1h-1ZM325,257h1v1h-1ZM662,257h1v1h-1ZM394,186h2v1h-2ZM676,186h1v1h-1ZM429,162h1v1h-1ZM680,162h1v1h-1ZM572,458h1v1h-1ZM622,458h1v1h-1ZM323,236h1v1h-1ZM666,236h1v1h-1ZM516,413h2v1h-2ZM631,413h1v1h-1ZM383,194h1v1h-1ZM674,194h1v1h-1ZM496,396h1v1h-1ZM634,396h1v1h-1ZM323,256h2v1h-2ZM662,256h1v1h-1ZM531,425h1v1h-1ZM628,425h1v1h-1ZM385,306h1v1h-1ZM652,306h1v1h-1ZM542,434h2v1h-2ZM627,434h1v1h-1ZM349,277h1v1h-1ZM658,277h1v1h-1ZM359,285h1v1h-1ZM656,285h1v1h-1ZM333,264h1v1h-1ZM660,264h1v1h-1ZM440,351h1v1h-1ZM643,351h1v1h-1ZM568,455h1v1h-1ZM623,455h1v1h-1ZM375,298h1v1h-1ZM654,298h1v1h-1ZM491,392h1v1h-1ZM635,392h1v1h-1ZM400,318h1v1h-1ZM650,318h1v1h-1ZM465,371h1v1h-1ZM639,371h1v1h-1ZM423,337h1v1h-1ZM646,337h1v1h-1ZM412,328h1v1h-1ZM648,328h1v1h-1ZM423,166h2v1h-2ZM680,166h1v1h-1ZM425,339h2v1h-2ZM645,339h1v1h-1ZM369,204h1v1h-1ZM672,204h1v1h-1ZM611,490h1v1h-1ZM616,490h1v1h-1ZM435,158h1v1h-1ZM681,158h1v1h-1ZM438,349h1v1h-1ZM643,349h1v1h-1ZM449,358h1v1h-1ZM642,358h1v1h-1ZM475,379h1v1h-1ZM638,379h1v1h-1ZM464,370h1v1h-1ZM639,370h1v1h-1ZM615,493h1v1h-1ZM468,135h1v1h-1ZM686,135h1v1h-1ZM449,148h1v1h-1ZM683,148h1v1h-1ZM439,350h1v1h-1ZM643,350h1v1h-1ZM413,329h1v1h-1ZM647,329h1v1h-1ZM373,201h1v1h-1ZM673,201h1v1h-1ZM448,357h1v1h-1ZM642,357h1v1h-1ZM370,294h1v1h-1ZM654,294h1v1h-1ZM334,228h2v1h-2ZM667,228h1v1h-1ZM338,225h2v1h-2ZM668,225h1v1h-1ZM610,489h1v1h-1ZM616,489h1v1h-1ZM396,315h1v1h-1ZM650,315h1v1h-1ZM407,324h1v1h-1ZM648,324h1v1h-1ZM418,333h1v1h-1ZM647,333h1v1h-1ZM584,468h1v1h-1ZM620,468h1v1h-1ZM486,388h1v1h-1ZM636,388h1v1h-1ZM318,252h2v1h-2ZM663,252h1v1h-1ZM422,336h1v1h-1ZM646,336h1v1h-1ZM433,345h1v1h-1ZM644,345h1v1h-1ZM439,155h1v1h-1ZM682,155h1v1h-1ZM459,366h1v1h-1ZM640,366h1v1h-1ZM503,402h1v1h-1ZM633,402h1v1h-1ZM477,381h1v1h-1ZM637,381h1v1h-1ZM600,481h1v1h-1ZM617,481h1v1h-1ZM558,447h2v1h-2ZM624,447h1v1h-1ZM485,387h1v1h-1ZM636,387h1v1h-1ZM314,248h1v1h-1ZM663,248h1v1h-1ZM507,405h1v1h-1ZM632,405h1v1h-1ZM433,159h2v1h-2ZM681,159h1v1h-1ZM429,342h1v1h-1ZM645,342h1v1h-1ZM476,380h1v1h-1ZM637,380h1v1h-1ZM379,197h1v1h-1ZM674,197h1v1h-1ZM356,213h1v1h-1ZM670,213h1v1h-1ZM360,210h1v1h-1ZM671,210h1v1h-1ZM465,137h1v1h-1ZM685,137h1v1h-1Z"/>
<path fill="#0080FF" shape-rendering="crispEdges" d="M561,180h4v1h-4ZM629,180h2v1h-2ZM615,193h4v1h-4ZM626,193h1v1h-1ZM532,173h4v1h-4ZM615,173h2v1h-2ZM544,154h1v1h-1ZM575,154h3v1h-3ZM603,190h4v1h-4ZM627,190h1v1h-1ZM573,183h5v1h-5ZM629,183h1v1h-1ZM548,177h4v1h-4ZM623,177h2v1h-2ZM536,174h4v1h-4ZM617,174h2v1h-2ZM531,169h1v1h-1ZM607,169h2v1h-2ZM550,147h1v1h-1ZM561,147h2v1h-2ZM553,143h2v1h-2ZM623,195h3v1h-3ZM541,158h1v1h-1ZM584,158h2v1h-2ZM619,194h4v1h-4ZM625,194h1v1h-1ZM594,188h4v1h-4ZM627,188h1v1h-1ZM565,181h4v1h-4ZM630,181h1v1h-1ZM540,159h1v1h-1ZM586,159h2v1h-2ZM543,155h1v1h-1ZM578,155h2v1h-2ZM531,170h1v1h-1ZM609,170h2v1h-2ZM534,166h1v1h-1ZM600,166h2v1h-2ZM552,144h1v1h-1ZM555,144h2v1h-2ZM569,182h4v1h-4ZM629,182h1v1h-1ZM586,186h4v1h-4ZM628,186h1v1h-1ZM552,178h5v1h-5ZM625,178h2v1h-2ZM546,152h1v1h-1ZM571,152h2v1h-2ZM549,148h1v1h-1ZM563,148h2v1h-2ZM530,171h1v1h-1ZM611,171h2v1h-2ZM557,179h4v1h-4ZM627,179h2v1h-2ZM542,156h1v1h-1ZM580,156h2v1h-2ZM529,172h3v1h-3ZM613,172h2v1h-2ZM578,184h4v1h-4ZM629,184h1v1h-1ZM532,168h1v1h-1ZM605,168h2v1h-2ZM536,164h1v1h-1ZM596,164h2v1h-2ZM539,160h1v1h-1ZM588,160h2v1h-2ZM590,187h4v1h-4ZM628,187h1v1h-1ZM544,176h4v1h-4ZM621,176h2v1h-2ZM607,191h4v1h-4ZM626,191h1v1h-1ZM547,150h1v1h-1ZM567,150h2v1h-2ZM551,146h1v1h-1ZM559,146h2v1h-2ZM540,175h4v1h-4ZM619,175h2v1h-2ZM598,189h5v1h-5ZM627,189h1v1h-1ZM611,192h4v1h-4ZM626,192h1v1h-1ZM545,153h1v1h-1ZM573,153h2v1h-2ZM548,149h1v1h-1ZM565,149h2v1h-2ZM582,185h4v1h-4ZM628,185h1v1h-1ZM537,162h1v1h-1ZM592,162h2v1h-2ZM535,165h1v1h-1ZM598,165h2v1h-2ZM533,167h1v1h-1ZM602,167h3v1h-3ZM546,151h1v1h-1ZM569,151h2v1h-2ZM536,163h1v1h-1ZM594,163h2v1h-2ZM551,145h1v1h-1ZM557,145h2v1h-2ZM538,161h1v1h-1ZM590,161h2v1h-2ZM541,157h1v1h-1ZM582,157h2v1h-2Z"/>
<path fill="#FF8000" shape-rendering="crispEdges" d="M552,149h1v1h-1ZM636,149h3v1h-3ZM547,129h1v1h-1ZM582,129h3v1h-3ZM582,189h2v1h-2ZM615,189h11v1h-11ZM587,192h6v1h-6ZM544,117h1v1h-1ZM550,117h3v1h-3ZM554,155h1v1h-1ZM652,155h3v1h-3ZM549,136h1v1h-1ZM601,136h3v1h-3ZM560,172h1v1h-1ZM698,172h2v1h-2ZM573,183h1v1h-1ZM682,183h11v1h-11ZM549,137h1v1h-1ZM604,137h3v1h-3ZM543,115h1v1h-1ZM545,115h3v1h-3ZM561,173h1v1h-1ZM700,173h3v1h-3ZM571,182h2v1h-2ZM693,182h11v1h-11ZM555,157h1v1h-1ZM657,157h3v1h-3ZM549,138h1v1h-1ZM607,138h2v1h-2ZM576,185h1v1h-1ZM660,185h11v1h-11ZM585,191h2v1h-2ZM593,191h11v1h-11ZM548,135h1v1h-1ZM598,135h3v1h-3ZM557,164h1v1h-1ZM676,164h3v1h-3ZM550,143h1v1h-1ZM620,143h3v1h-3ZM584,190h1v1h-1ZM604,190h11v1h-11ZM550,141h1v1h-1ZM615,141h2v1h-2ZM545,122h1v1h-1ZM564,122h2v1h-2ZM568,180h2v1h-2ZM715,180h6v1h-6ZM555,158h1v1h-1ZM660,158h3v1h-3ZM549,139h1v1h-1ZM609,139h3v1h-3ZM545,123h1v1h-1ZM566,123h3v1h-3ZM570,181h1v1h-1ZM704,181h11v1h-11ZM563,177h2v1h-2ZM711,177h3v1h-3ZM574,184h2v1h-2ZM671,184h11v1h-11ZM547,128h1v1h-1ZM580,128h2v1h-2ZM555,159h1v1h-1ZM663,159h3v1h-3ZM561,174h1v1h-1ZM703,174h3v1h-3ZM546,124h1v1h-1ZM569,124h3v1h-3ZM577,186h2v1h-2ZM648,186h12v1h-12ZM554,156h1v1h-1ZM655,156h2v1h-2ZM545,121h1v1h-1ZM561,121h3v1h-3ZM566,179h2v1h-2ZM716,179h3v1h-3ZM544,118h1v1h-1ZM553,118h3v1h-3ZM562,176h1v1h-1ZM708,176h3v1h-3ZM546,127h1v1h-1ZM577,127h3v1h-3ZM557,163h1v1h-1ZM674,163h2v1h-2ZM550,142h1v1h-1ZM617,142h3v1h-3ZM551,145h1v1h-1ZM625,145h3v1h-3ZM556,160h1v1h-1ZM666,160h2v1h-2ZM579,187h1v1h-1ZM637,187h11v1h-11ZM546,125h1v1h-1ZM572,125h2v1h-2ZM556,161h1v1h-1ZM668,161h3v1h-3ZM553,152h1v1h-1ZM644,152h3v1h-3ZM557,162h1v1h-1ZM671,162h3v1h-3ZM550,140h1v1h-1ZM612,140h3v1h-3ZM580,188h2v1h-2ZM626,188h11v1h-11ZM551,146h1v1h-1ZM628,146h3v1h-3ZM546,126h1v1h-1ZM574,126h3v1h-3ZM551,147h1v1h-1ZM631,147h2v1h-2ZM552,148h1v1h-1ZM633,148h3v1h-3ZM552,150h1v1h-1ZM639,150h2v1h-2ZM548,133h1v1h-1ZM593,133h3v1h-3ZM547,130h1v1h-1ZM585,130h3v1h-3ZM560,170h1v1h-1ZM692,170h3v1h-3ZM558,167h1v1h-1ZM684,167h3v1h-3ZM548,132h1v1h-1ZM590,132h3v1h-3ZM559,168h1v1h-1ZM687,168h3v1h-3ZM558,165h1v1h-1ZM679,165h3v1h-3ZM544,116h1v1h-1ZM548,116h2v1h-2ZM551,144h1v1h-1ZM623,144h2v1h-2ZM553,153h1v1h-1ZM647,153h2v1h-2ZM548,134h1v1h-1ZM596,134h2v1h-2ZM553,154h1v1h-1ZM649,154h3v1h-3ZM552,151h1v1h-1ZM641,151h3v1h-3ZM544,119h1v1h-1ZM556,119h2v1h-2ZM545,120h1v1h-1ZM558,120h3v1h-3ZM562,175h1v1h-1ZM706,175h2v1h-2ZM565,178h1v1h-1ZM714,178h2v1h-2ZM547,131h1v1h-1ZM588,131h2v1h-2ZM558,166h1v1h-1ZM682,166h2v1h-2ZM559,169h1v1h-1ZM690,169h2v1h-2ZM560,171h1v1h-1ZM695,171h3v1h-3ZM543,114h2v1h-2Z"/>
<path fill="#FF0000" shape-rendering="crispEdges" d="M448,168h1v1h-1ZM541,168h3v1h-3ZM437,180h1v1h-1ZM511,180h2v1h-2ZM502,112h1v1h-1ZM557,112h3v1h-3ZM475,140h1v1h-1ZM613,140h2v1h-2ZM393,225h1v1h-1ZM395,225h3v1h-3ZM463,153h1v1h-1ZM580,153h2v1h-2ZM425,192h1v1h-1ZM480,192h2v1h-2ZM427,190h1v1h-1ZM485,190h2v1h-2ZM501,113h1v1h-1ZM560,113h3v1h-3ZM451,165h1v1h-1ZM549,165h2v1h-2ZM507,107h1v1h-1ZM540,107h3v1h-3ZM415,202h1v1h-1ZM454,202h3v1h-3ZM483,132h1v1h-1ZM622,132h3v1h-3ZM412,205h1v1h-1ZM447,205h2v1h-2ZM474,141h1v1h-1ZM610,141h3v1h-3ZM491,124h1v1h-1ZM596,124h3v1h-3ZM431,186h1v1h-1ZM495,186h3v1h-3ZM404,214h1v1h-1ZM423,214h3v1h-3ZM510,104h1v1h-1ZM530,104h4v1h-4ZM514,100h1v1h-1ZM517,100h3v1h-3ZM419,198h1v1h-1ZM464,198h3v1h-3ZM465,151h1v1h-1ZM585,151h2v1h-2ZM453,163h1v1h-1ZM554,163h3v1h-3ZM494,121h1v1h-1ZM586,121h3v1h-3ZM429,188h1v1h-1ZM490,188h3v1h-3ZM407,211h1v1h-1ZM431,211h3v1h-3ZM441,175h1v1h-1ZM523,175h3v1h-3ZM509,105h1v1h-1ZM534,105h3v1h-3ZM417,200h1v1h-1ZM459,200h3v1h-3ZM499,116h1v1h-1ZM570,116h3v1h-3ZM493,122h1v1h-1ZM589,122h4v1h-4ZM423,194h1v1h-1ZM475,194h2v1h-2ZM492,123h1v1h-1ZM593,123h3v1h-3ZM479,136h1v1h-1ZM623,136h3v1h-3ZM498,117h1v1h-1ZM573,117h3v1h-3ZM455,161h1v1h-1ZM559,161h3v1h-3ZM411,206h1v1h-1ZM444,206h3v1h-3ZM391,227h2v1h-2ZM395,223h1v1h-1ZM400,223h3v1h-3ZM508,106h1v1h-1ZM537,106h3v1h-3ZM461,155h1v1h-1ZM574,155h3v1h-3ZM439,177h1v1h-1ZM518,177h3v1h-3ZM497,118h1v1h-1ZM576,118h4v1h-4ZM449,167h1v1h-1ZM544,167h2v1h-2ZM413,204h1v1h-1ZM449,204h3v1h-3ZM513,101h1v1h-1ZM520,101h4v1h-4ZM489,126h1v1h-1ZM603,126h3v1h-3ZM402,216h1v1h-1ZM418,216h3v1h-3ZM471,144h1v1h-1ZM603,144h2v1h-2ZM428,189h1v1h-1ZM487,189h3v1h-3ZM506,108h1v1h-1ZM543,108h4v1h-4ZM482,133h1v1h-1ZM625,133h3v1h-3ZM407,210h1v1h-1ZM434,210h2v1h-2ZM477,138h1v1h-1ZM618,138h3v1h-3ZM458,158h1v1h-1ZM567,158h2v1h-2ZM396,222h1v1h-1ZM403,222h3v1h-3ZM515,99h2v1h-2ZM485,130h1v1h-1ZM615,130h3v1h-3ZM466,150h1v1h-1ZM587,150h3v1h-3ZM406,212h1v1h-1ZM429,212h2v1h-2ZM445,171h1v1h-1ZM534,171h2v1h-2ZM490,125h1v1h-1ZM599,125h4v1h-4ZM434,183h1v1h-1ZM503,183h2v1h-2ZM398,220h1v1h-1ZM408,220h3v1h-3ZM443,173h1v1h-1ZM528,173h3v1h-3ZM400,218h1v1h-1ZM413,218h3v1h-3ZM446,170h1v1h-1ZM536,170h3v1h-3ZM432,185h1v1h-1ZM498,185h2v1h-2ZM392,226h3v1h-3ZM505,109h1v1h-1ZM547,109h3v1h-3ZM470,145h1v1h-1ZM600,145h3v1h-3ZM438,179h1v1h-1ZM513,179h3v1h-3ZM469,146h1v1h-1ZM598,146h2v1h-2ZM426,191h1v1h-1ZM482,191h3v1h-3ZM504,110h1v1h-1ZM550,110h3v1h-3ZM414,203h1v1h-1ZM452,203h2v1h-2ZM488,127h1v1h-1ZM606,127h3v1h-3ZM394,224h1v1h-1ZM398,224h2v1h-2ZM464,152h1v1h-1ZM582,152h3v1h-3ZM452,164h1v1h-1ZM551,164h3v1h-3ZM512,102h1v1h-1ZM524,102h3v1h-3ZM496,119h1v1h-1ZM580,119h3v1h-3ZM462,154h1v1h-1ZM577,154h3v1h-3ZM422,195h1v1h-1ZM472,195h3v1h-3ZM511,103h1v1h-1ZM527,103h3v1h-3ZM410,207h1v1h-1ZM441,207h3v1h-3ZM480,135h1v1h-1ZM626,135h2v1h-2ZM399,219h1v1h-1ZM411,219h2v1h-2ZM456,160h1v1h-1ZM562,160h2v1h-2ZM420,197h1v1h-1ZM467,197h3v1h-3ZM503,111h1v1h-1ZM553,111h4v1h-4ZM460,156h1v1h-1ZM572,156h2v1h-2ZM444,172h1v1h-1ZM531,172h3v1h-3ZM436,181h1v1h-1ZM508,181h3v1h-3ZM487,128h1v1h-1ZM609,128h3v1h-3ZM424,193h1v1h-1ZM477,193h3v1h-3ZM450,166h1v1h-1ZM546,166h3v1h-3ZM486,129h1v1h-1ZM612,129h3v1h-3ZM403,215h1v1h-1ZM421,215h2v1h-2ZM435,182h1v1h-1ZM505,182h3v1h-3ZM440,176h1v1h-1ZM521,176h2v1h-2ZM469,147h1v1h-1ZM595,147h3v1h-3ZM405,213h1v1h-1ZM426,213h3v1h-3ZM408,209h1v1h-1ZM436,209h3v1h-3ZM478,137h1v1h-1ZM621,137h2v1h-2ZM397,221h1v1h-1ZM406,221h2v1h-2ZM433,184h1v1h-1ZM500,184h3v1h-3ZM467,149h1v1h-1ZM590,149h2v1h-2ZM457,159h1v1h-1ZM564,159h3v1h-3ZM472,143h1v1h-1ZM605,143h3v1h-3ZM484,131h1v1h-1ZM618,131h4v1h-4ZM401,217h1v1h-1ZM416,217h2v1h-2ZM421,196h1v1h-1ZM470,196h2v1h-2ZM459,157h1v1h-1ZM569,157h3v1h-3ZM438,178h1v1h-1ZM516,178h2v1h-2ZM476,139h1v1h-1ZM615,139h3v1h-3ZM409,208h1v1h-1ZM439,208h2v1h-2ZM500,114h1v1h-1ZM563,114h3v1h-3ZM481,134h1v1h-1ZM628,134h2v1h-2ZM500,115h1v1h-1ZM566,115h4v1h-4ZM447,169h1v1h-1ZM539,169h2v1h-2ZM416,201h1v1h-1ZM457,201h2v1h-2ZM473,142h1v1h-1ZM608,142h2v1h-2ZM468,148h1v1h-1ZM592,148h3v1h-3ZM430,187h1v1h-1ZM493,187h2v1h-2ZM454,162h1v1h-1ZM557,162h2v1h-2ZM418,199h1v1h-1ZM462,199h2v1h-2ZM495,120h1v1h-1ZM583,120h3v1h-3ZM442,174h1v1h-1ZM526,174h2v1h-2Z"/>
<path fill="#0000FF" shape-rendering="crispEdges" d="M150,288h4v1h-4ZM218,288h14v1h-14ZM331,239h4v1h-4ZM645,239h1v1h-1ZM191,277h4v1h-4ZM372,277h15v1h-15ZM136,292h3v1h-3ZM162,292h14v1h-14ZM312,244h4v1h-4ZM642,244h1v1h-1ZM180,280h4v1h-4ZM330,280h14v1h-14ZM287,251h3v1h-3ZM637,251h1v1h-1ZM126,295h8v1h-8ZM169,283h4v1h-4ZM288,283h14v1h-14ZM585,170h4v1h-4ZM607,170h2v1h-2ZM268,256h4v1h-4ZM634,256h1v1h-1ZM412,217h4v1h-4ZM659,217h1v1h-1ZM184,279h3v1h-3ZM344,279h14v1h-14ZM298,248h3v1h-3ZM639,248h1v1h-1ZM250,261h4v1h-4ZM597,261h14v1h-14ZM165,284h4v1h-4ZM274,284h14v1h-14ZM555,178h4v1h-4ZM619,178h2v1h-2ZM132,293h4v1h-4ZM148,293h14v1h-14ZM537,183h4v1h-4ZM627,183h2v1h-2ZM242,263h4v1h-4ZM569,263h14v1h-14ZM423,214h4v1h-4ZM661,214h1v1h-1ZM434,211h4v1h-4ZM662,211h1v1h-1ZM493,195h4v1h-4ZM646,195h2v1h-2ZM379,226h3v1h-3ZM653,226h1v1h-1ZM390,223h3v1h-3ZM655,223h1v1h-1ZM206,273h3v1h-3ZM429,273h14v1h-14ZM360,231h4v1h-4ZM650,231h1v1h-1ZM323,241h4v1h-4ZM643,241h1v1h-1ZM276,254h3v1h-3ZM635,254h1v1h-1ZM338,237h4v1h-4ZM646,237h1v1h-1ZM235,265h4v1h-4ZM541,265h14v1h-14ZM342,236h4v1h-4ZM647,236h1v1h-1ZM195,276h3v1h-3ZM387,276h14v1h-14ZM246,262h4v1h-4ZM583,262h14v1h-14ZM147,289h3v1h-3ZM204,289h14v1h-14ZM257,259h4v1h-4ZM625,259h8v1h-8ZM224,268h4v1h-4ZM499,268h14v1h-14ZM272,255h4v1h-4ZM635,255h1v1h-1ZM533,184h4v1h-4ZM629,184h1v1h-1ZM128,294h4v1h-4ZM134,294h14v1h-14ZM213,271h4v1h-4ZM457,271h14v1h-14ZM544,181h4v1h-4ZM624,181h2v1h-2ZM463,203h4v1h-4ZM658,203h2v1h-2ZM202,274h4v1h-4ZM415,274h14v1h-14ZM526,186h4v1h-4ZM632,186h1v1h-1ZM500,193h4v1h-4ZM643,193h1v1h-1ZM198,275h4v1h-4ZM401,275h14v1h-14ZM482,198h4v1h-4ZM651,198h1v1h-1ZM187,278h4v1h-4ZM358,278h14v1h-14ZM364,230h4v1h-4ZM650,230h1v1h-1ZM368,229h3v1h-3ZM651,229h1v1h-1ZM349,234h4v1h-4ZM648,234h1v1h-1ZM265,257h3v1h-3ZM633,257h1v1h-1ZM589,169h3v1h-3ZM605,169h2v1h-2ZM254,260h3v1h-3ZM611,260h14v1h-14ZM305,246h4v1h-4ZM640,246h1v1h-1ZM220,269h4v1h-4ZM485,269h14v1h-14ZM471,201h3v1h-3ZM655,201h2v1h-2ZM592,168h4v1h-4ZM604,168h1v1h-1ZM239,264h3v1h-3ZM555,264h14v1h-14ZM574,173h4v1h-4ZM612,173h1v1h-1ZM489,196h4v1h-4ZM648,196h1v1h-1ZM460,204h3v1h-3ZM660,204h2v1h-2ZM173,282h3v1h-3ZM302,282h14v1h-14ZM441,209h4v1h-4ZM664,209h1v1h-1ZM161,285h4v1h-4ZM260,285h14v1h-14ZM357,232h3v1h-3ZM649,232h1v1h-1ZM596,167h4v1h-4ZM602,167h2v1h-2ZM231,266h4v1h-4ZM527,266h14v1h-14ZM397,221h4v1h-4ZM656,221h1v1h-1ZM143,290h4v1h-4ZM190,290h14v1h-14ZM515,189h4v1h-4ZM637,189h1v1h-1ZM294,249h4v1h-4ZM638,249h1v1h-1ZM209,272h4v1h-4ZM443,272h14v1h-14ZM154,287h4v1h-4ZM232,287h14v1h-14ZM581,171h4v1h-4ZM609,171h1v1h-1ZM563,176h4v1h-4ZM616,176h2v1h-2ZM139,291h4v1h-4ZM176,291h14v1h-14ZM449,207h3v1h-3ZM665,207h1v1h-1ZM430,212h4v1h-4ZM662,212h1v1h-1ZM405,219h3v1h-3ZM657,219h1v1h-1ZM217,270h3v1h-3ZM471,270h14v1h-14ZM386,224h4v1h-4ZM654,224h1v1h-1ZM301,247h4v1h-4ZM640,247h1v1h-1ZM283,252h4v1h-4ZM636,252h1v1h-1ZM570,174h4v1h-4ZM613,174h2v1h-2ZM316,243h4v1h-4ZM642,243h1v1h-1ZM497,194h3v1h-3ZM644,194h2v1h-2ZM508,191h3v1h-3ZM640,191h1v1h-1ZM393,222h4v1h-4ZM655,222h1v1h-1ZM309,245h3v1h-3ZM641,245h1v1h-1ZM375,227h4v1h-4ZM652,227h1v1h-1ZM290,250h4v1h-4ZM638,250h1v1h-1ZM552,179h3v1h-3ZM621,179h2v1h-2ZM228,267h3v1h-3ZM513,267h14v1h-14ZM486,197h3v1h-3ZM649,197h2v1h-2ZM504,192h4v1h-4ZM641,192h2v1h-2ZM401,220h4v1h-4ZM657,220h1v1h-1ZM467,202h4v1h-4ZM657,202h1v1h-1ZM382,225h4v1h-4ZM654,225h1v1h-1ZM176,281h4v1h-4ZM316,281h14v1h-14ZM320,242h3v1h-3ZM643,242h1v1h-1ZM541,182h3v1h-3ZM626,182h1v1h-1ZM456,205h4v1h-4ZM662,205h1v1h-1ZM522,187h4v1h-4ZM633,187h2v1h-2ZM474,200h4v1h-4ZM654,200h1v1h-1ZM261,258h4v1h-4ZM633,258h1v1h-1ZM371,228h4v1h-4ZM652,228h1v1h-1ZM346,235h3v1h-3ZM647,235h1v1h-1ZM548,180h4v1h-4ZM623,180h1v1h-1ZM327,240h4v1h-4ZM644,240h1v1h-1ZM353,233h4v1h-4ZM648,233h1v1h-1ZM438,210h3v1h-3ZM663,210h1v1h-1ZM419,215h4v1h-4ZM660,215h1v1h-1ZM578,172h3v1h-3ZM610,172h2v1h-2ZM559,177h4v1h-4ZM618,177h1v1h-1ZM158,286h3v1h-3ZM246,286h14v1h-14ZM530,185h3v1h-3ZM630,185h2v1h-2ZM511,190h4v1h-4ZM638,190h2v1h-2ZM427,213h3v1h-3ZM661,213h1v1h-1ZM408,218h4v1h-4ZM658,218h1v1h-1ZM335,238h3v1h-3ZM645,238h1v1h-1ZM279,253h4v1h-4ZM636,253h1v1h-1ZM567,175h3v1h-3ZM615,175h1v1h-1ZM452,206h4v1h-4ZM663,206h2v1h-2ZM519,188h3v1h-3ZM635,188h2v1h-2ZM416,216h3v1h-3ZM659,216h1v1h-1ZM445,208h4v1h-4ZM664,208h1v1h-1ZM478,199h4v1h-4ZM652,199h2v1h-2ZM600,166h2v1h-2Z"/>
</svg>
</body></html>
